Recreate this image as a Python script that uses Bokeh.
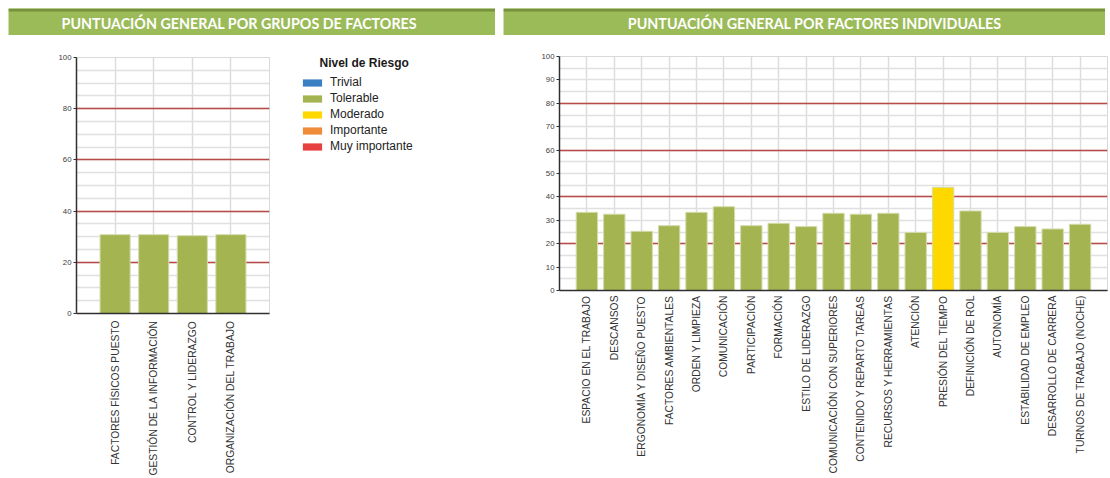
from math import pi
from bokeh.plotting import figure
from bokeh.models import (FactorRange, Range1d, SingleIntervalTicker, Legend, LegendItem,
                          Label, BoxAnnotation, ColumnDataSource, Spacer)
from bokeh.layouts import row, column
from bokeh.embed import file_html
from bokeh.resources import INLINE

# ---------------- data ----------------
titulo_grupos = "PUNTUACIÓN GENERAL POR GRUPOS DE FACTORES"
titulo_factores = "PUNTUACIÓN GENERAL POR FACTORES INDIVIDUALES"

grupos = ["FACTORES FÍSICOS PUESTO", "GESTIÓN DE LA INFORMACIÓN",
          "CONTROL Y LIDERAZGO", "ORGANIZACIÓN DEL TRABAJO"]
grupos_valor = [30.8, 30.8, 30.4, 30.8]
grupos_nivel = ["Tolerable", "Tolerable", "Tolerable", "Tolerable"]

factores = ["ESPACIO EN EL TRABAJO", "DESCANSOS", "ERGONOMÍA Y DISEÑO PUESTO",
            "FACTORES AMBIENTALES", "ORDEN Y LIMPIEZA", "COMUNICACIÓN", "PARTICIPACIÓN",
            "FORMACIÓN", "ESTILO DE LIDERAZGO", "COMUNICACIÓN CON SUPERIORES",
            "CONTENIDO Y REPARTO TAREAS", "RECURSOS Y HERRAMIENTAS", "ATENCIÓN",
            "PRESIÓN DEL TIEMPO", "DEFINICIÓN DE ROL", "AUTONOMÍA", "ESTABILIDAD DE EMPLEO",
            "DESARROLLO DE CARRERA", "TURNOS DE TRABAJO (NOCHE)"]
factores_valor = [33.4, 32.6, 25.3, 27.7, 33.4, 35.8, 27.7, 28.7, 27.3, 33.0,
                  32.6, 33.0, 24.8, 44.1, 34.0, 24.8, 27.3, 26.3, 28.3]
factores_nivel = ["Tolerable"] * 13 + ["Moderado"] + ["Tolerable"] * 5

leyenda_titulo = "Nivel de Riesgo"
niveles = ["Trivial", "Tolerable", "Moderado", "Importante", "Muy importante"]
nivel_colores = ["#3b80c2", "#a3b451", "#ffd800", "#ef8c3a", "#e8403f"]

# ---------------- styling ----------------
HDR_GREEN = "#9bbb59"
HDR_DARK = "#76923c"
RED_LINE = "#b94a48"
GRAY_LINE = "#e0e0e0"
FONT = "Liberation Sans"
color_map = dict(zip(niveles, nivel_colores))


def blank(width, height, x_range, y_range, **kw):
    f = figure(width=width, height=height, x_range=x_range, y_range=y_range,
               x_axis_type=None, y_axis_type=None, toolbar_location=None,
               output_backend="svg", title=None, **kw)
    f.frame_align = False
    f.grid.visible = False
    f.outline_line_color = None
    return f


def header(text, width, tx):
    h = blank(width, 27, Range1d(0, 1), Range1d(0, 1), min_border=0)
    h.background_fill_color = HDR_GREEN
    h.border_fill_color = HDR_GREEN
    h.add_layout(BoxAnnotation(bottom=1 - 3 / 27, fill_color=HDR_DARK, fill_alpha=1,
                               line_color=None))
    h.add_layout(Label(x=tx, y=0.46, text=text, text_align="center",
                       text_baseline="middle", text_font="Lato", text_font_style="bold",
                       text_font_size="14.3px", text_color="white"))
    return h


def bar_chart(cats, vals, levels, width, bl, br, bt, bb, label_interval, standoff):
    src = ColumnDataSource(dict(cat=cats, val=vals, color=[color_map[l] for l in levels]))
    p = figure(x_range=FactorRange(factors=cats, range_padding=0.5,
                                   range_padding_units="absolute"),
               y_range=Range1d(0, 100), width=width, height=443,
               min_border_left=bl, min_border_right=br, min_border_top=bt,
               min_border_bottom=bb, toolbar_location=None, output_backend="svg",
               title=None)
    p.frame_align = False
    p.vbar(x="cat", top="val", width=0.78, source=src, fill_color="color",
           line_color="#d2ddaa", line_width=1)
    p.outline_line_color = "#d9d9d9"

    p.xgrid.grid_line_color = "#dcdcdc"
    p.xgrid.grid_line_width = 1.5
    p.ygrid.ticker = SingleIntervalTicker(interval=20, num_minor_ticks=4)
    p.ygrid.grid_line_color = RED_LINE
    p.ygrid.grid_line_width = 1.5
    p.ygrid.minor_grid_line_color = GRAY_LINE
    p.ygrid.minor_grid_line_width = 1.5

    p.yaxis.ticker = SingleIntervalTicker(interval=label_interval, num_minor_ticks=0)
    p.yaxis.major_label_text_font = FONT
    p.yaxis.major_label_text_font_size = "7.8px"
    p.yaxis.major_label_text_color = "#404040"
    p.yaxis.major_label_standoff = 2
    p.yaxis.major_tick_in = 0
    p.yaxis.major_tick_out = 3
    p.yaxis.minor_tick_line_color = None

    for ax in (p.xaxis, p.yaxis):
        ax.axis_line_color = "#303030"
        ax.axis_line_width = 1.5
        ax.major_tick_line_color = "#303030"

    p.xaxis.major_tick_line_color = None
    p.xaxis.major_tick_out = 0
    p.xaxis.major_label_orientation = pi / 2
    p.xaxis.major_label_text_font = FONT
    p.xaxis.major_label_text_font_size = "10.3px"
    p.xaxis.major_label_text_color = "#333333"
    p.xaxis.major_label_standoff = standoff
    return p


# headers
hL = header(titulo_grupos, 487, 0.474)
hR = header(titulo_factores, 602, 0.517)

# charts
pL = bar_chart(grupos, grupos_valor, grupos_nivel, 290, 76, 21, 22, 163, 20, 7)
pR = bar_chart(factores, factores_valor, factores_nivel, 607, 56, 3, 21, 188, 10, 5)

# legend title panel
pTit = blank(213, 39, Range1d(0, 213), Range1d(0, 39), min_border=0)
pTit.add_layout(Label(x=29, y=11.5, text=leyenda_titulo, text_baseline="middle",
                      text_font=FONT, text_font_style="bold", text_font_size="12px",
                      text_color="#1a1a1a"))

# legend panel
leg_src = ColumnDataSource(dict(nivel=niveles, color=nivel_colores,
                                cero=[0] * len(niveles)))
pLeg = blank(213, 404, FactorRange(factors=niveles), Range1d(0, 1),
             min_border_left=10, min_border_top=0, min_border_right=0, min_border_bottom=0)
rleg = pLeg.vbar(x="nivel", top="cero", width=0.5, source=leg_src, fill_color="color",
                 line_color=None)
items = [LegendItem(label=n, renderers=[rleg], index=i) for i, n in enumerate(niveles)]
leg = Legend(items=items, location="top_left", glyph_width=24, glyph_height=9,
             label_height=16, spacing=0, padding=0, margin=0, label_standoff=6,
             label_text_font=FONT, label_text_font_size="12px",
             label_text_color="#222222", border_line_color=None,
             background_fill_alpha=0)
pLeg.add_layout(leg, "center")

layout = column(Spacer(height=8),
                row(Spacer(width=8), hL, Spacer(width=8), hR),
                row(pL, column(pTit, pLeg), pR))

open("out.html", "w").write(file_html(layout, INLINE))
